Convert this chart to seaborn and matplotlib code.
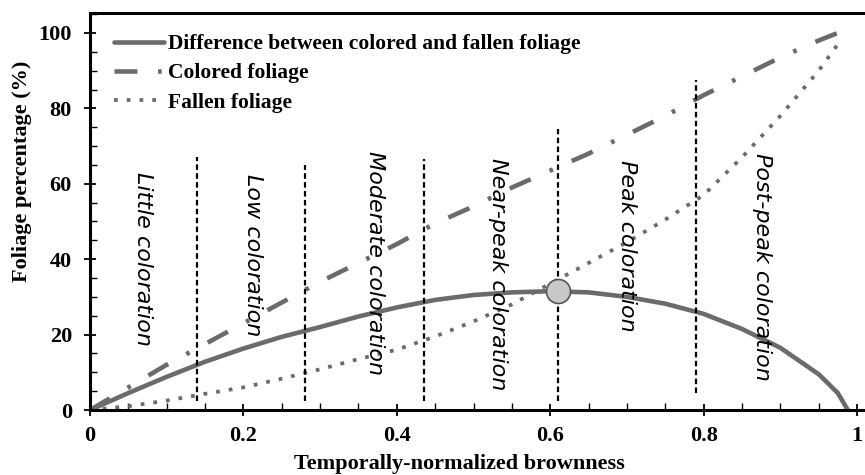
import matplotlib
matplotlib.use("Agg")
import matplotlib.pyplot as plt
from matplotlib.ticker import MultipleLocator, FixedLocator
import seaborn as sns
import pandas as pd

# brownness grid and the three foliage curves (%)
brownness = [0, 0.05, 0.1, 0.15, 0.2, 0.25, 0.3, 0.35, 0.4, 0.45, 0.5,
             0.55, 0.6, 0.65, 0.7, 0.75, 0.8, 0.85, 0.9, 0.95, 0.975]
colored = [0, 6, 12, 17.5, 23, 28.5, 34, 39, 44, 49.5, 54,
           59, 63.5, 68, 73, 78, 83.5, 88.5, 93.5, 98, 100]
fallen = [0, 1, 2.5, 4.3, 6, 8.3, 10.8, 13.5, 16, 19.5, 23.5,
          28, 33.5, 39, 44.5, 50.5, 57, 67, 78, 90, 97]
diff_x = [0, 0.05, 0.1, 0.15, 0.2, 0.25, 0.3, 0.35, 0.4, 0.45, 0.5, 0.55,
          0.6, 0.65, 0.7, 0.75, 0.8, 0.85, 0.9, 0.95, 0.975, 0.988]
difference = [0, 4.5, 8.8, 12.8, 16.3, 19.4, 22, 24.8, 27.2, 29.2, 30.5, 31.2,
              31.5, 31.2, 30, 28.2, 25.5, 21.5, 16.5, 9.5, 4.5, 0]

peak_x = [0.61]
peak_y = [31.5]

# stage boundaries and stage names
bounds = [0.14, 0.28, 0.435, 0.61, 0.79]
bound_top = [67, 65, 66.5, 74.5, 87.5]
bound_bottom = [2.5, 2.5, 2.5, 2.5, 4.5]
stages = ["Little coloration", "Low coloration", "Moderate coloration",
          "Near-peak coloration", "Peak coloration", "Post-peak coloration"]
stage_x = [0.069, 0.213, 0.372, 0.532, 0.70, 0.876]
stage_y = [40, 41, 39, 36, 43.5, 38]

df_col = pd.DataFrame({"x": brownness, "y": colored})
df_fal = pd.DataFrame({"x": brownness, "y": fallen})
df_dif = pd.DataFrame({"x": diff_x, "y": difference})

sns.set_style("ticks")
plt.rcParams["font.family"] = ["Liberation Serif", "DejaVu Serif"]
plt.rcParams["text.color"] = "black"
plt.rcParams["axes.labelcolor"] = "black"
plt.rcParams["xtick.color"] = "black"
plt.rcParams["ytick.color"] = "black"

fig = plt.figure(figsize=(8.65, 4.75), dpi=100)
ax = fig.add_axes([90 / 865, 65 / 475, 1.03 * 767 / 865, 397 / 475])

grey = "#6b6b6b"
sns.lineplot(data=df_dif, x="x", y="y", ax=ax, color=grey, lw=3.3,
             label="Difference between colored and fallen foliage")
sns.lineplot(data=df_col, x="x", y="y", ax=ax, color=grey, lw=3.3,
             ls=(0, (5, 4.5, 0.8, 4.5)), label="Colored foliage")
sns.lineplot(data=df_fal, x="x", y="y", ax=ax, color=grey, lw=2.7,
             ls=(0, (1, 2.4)), label="Fallen foliage")

ax.vlines(bounds, bound_bottom, bound_top, colors="black", lw=1.6,
          linestyles=(0, (2.5, 1.5)))
sns.scatterplot(x=peak_x, y=peak_y, ax=ax, s=300, color="#c8c8c8",
                edgecolor="#555555", linewidth=1.2, zorder=5)

for name, tx, ty in zip(stages, stage_x, stage_y):
    ax.text(tx, ty, name, rotation=270, ha="center", va="center",
            fontsize=16, style="italic", family="DejaVu Sans", color="black")

ax.set_xlim(0, 1.03)
ax.set_ylim(0, 105.3)
ax.xaxis.set_major_locator(FixedLocator([0, 0.2, 0.4, 0.6, 0.8, 1.0]))
ax.set_xticklabels(["0", "0.2", "0.4", "0.6", "0.8", "1"])
ax.xaxis.set_minor_locator(MultipleLocator(0.05))
ax.yaxis.set_major_locator(MultipleLocator(20))
ax.yaxis.set_minor_locator(MultipleLocator(5))
ax.tick_params(which="major", direction="inout", length=9, width=1.3,
               labelsize=16)
ax.tick_params(axis="y", which="major", pad=8.5)
ax.tick_params(axis="x", which="major", pad=7)
ax.tick_params(which="minor", direction="in", length=5, width=1.0)
for lab in ax.get_xticklabels() + ax.get_yticklabels():
    lab.set_fontweight("bold")

ax.set_xlabel("Temporally-normalized brownness", fontsize=16,
              fontweight="bold")
ax.set_ylabel("Foliage percentage (%)", fontsize=16, fontweight="bold")
ax.xaxis.set_label_coords(0.468, -0.112)
ax.yaxis.set_label_coords(-0.073, 0.6)

for side in ["left", "bottom", "top"]:
    ax.spines[side].set_linewidth(2.2)
    ax.spines[side].set_color("black")
ax.spines["right"].set_visible(False)

leg = ax.legend(loc="upper left", bbox_to_anchor=(0.02, 0.968), frameon=False,
                handlelength=2.3, handletextpad=0.2, labelspacing=0.42,
                borderaxespad=0, prop={"weight": "bold", "size": 15.5})

fig.savefig("out.png", dpi=100)
